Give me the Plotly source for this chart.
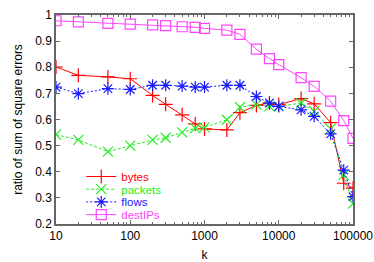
import plotly.graph_objects as go

k = [10, 20, 50, 100, 200, 300, 500, 750, 1000, 2000, 3000, 5000, 7500,
     10000, 20000, 30000, 50000, 75000, 100000]
bytes_ = [0.801, 0.769, 0.763, 0.756, 0.692, 0.658, 0.618, 0.583, 0.564, 0.560,
          0.626, 0.654, 0.663, 0.657, 0.680, 0.660, 0.588, 0.356, 0.337]
packets = [0.542, 0.522, 0.477, 0.500, 0.522, 0.530, 0.551, 0.567, 0.570, 0.599,
           0.647, 0.657, 0.650, 0.650, 0.663, 0.632, 0.564, 0.388, 0.278]
flows = [0.724, 0.699, 0.718, 0.715, 0.731, 0.731, 0.728, 0.724, 0.724, 0.731,
         0.731, 0.688, 0.663, 0.650, 0.637, 0.612, 0.545, 0.406, 0.305]
destIPs = [0.978, 0.974, 0.968, 0.965, 0.962, 0.959, 0.955, 0.953, 0.949, 0.942,
           0.926, 0.869, 0.833, 0.810, 0.760, 0.727, 0.670, 0.596, 0.528]

x_tickvals = [10, 100, 1000, 10000, 100000]
x_ticktext = ["10", "100", "1000", "10000", "100000"]
y_tickvals = [0.2, 0.3, 0.4, 0.5, 0.6, 0.7, 0.8, 0.9, 1.0]
y_ticktext = ["0.2", "0.3", "0.4", "0.5", "0.6", "0.7", "0.8", "0.9", "1"]
minor_vals = [m * d for d in [10, 100, 1000, 10000] for m in range(2, 10)]

series = [
    ("bytes", bytes_, "#ff0000", "solid", "cross-thin", "legend"),
    ("packets", packets, "#22ee22", "3px,2px", "x-thin", "legend2"),
    ("flows", flows, "#1a1aff", "2px,2px", "asterisk", "legend3"),
    ("destIPs", destIPs, "#ff44ff", "solid", "square-open", "legend4"),
]

fig = go.Figure()
for name, vals, col, dash, sym, leg in series:
    fig.add_trace(go.Scatter(
        x=k, y=vals, mode="lines+markers", name=name, legend=leg,
        line=dict(color=col, width=1, dash=dash),
        marker=dict(symbol=sym, size=10, color=col,
                    line=dict(color=col, width=1.2)),
    ))

axis_common = dict(
    showline=True, linecolor="#666666", linewidth=1.5, mirror="ticks",
    ticks="inside", tickcolor="#666666", ticklen=4, showgrid=False,
    zeroline=False, tickfont=dict(size=12, color="#000000"), automargin=False,
)

fig.update_xaxes(
    type="log", range=[1, 5], tickvals=x_tickvals, ticktext=x_ticktext,
    title=dict(text="k", font=dict(size=12, color="#000000"), standoff=8),
    minor=dict(ticks="inside", tickvals=minor_vals, ticklen=2.5,
               tickcolor="#666666"),
    **axis_common,
)
fig.update_yaxes(
    range=[0.2, 1.0], tickvals=y_tickvals, ticktext=y_ticktext,
    title=dict(text="ratio of sum of square errors",
               font=dict(size=12, color="#000000"), standoff=10),
    **axis_common,
)

W, H = 374, 262
ml, mr, mt, mb = 56, 21, 15, 38
plot_h = H - mt - mb
row_y = [176.5, 189.2, 201.9, 214.6]  # legend row centres in figure px
legends = {}
for (name, vals, col, dash, sym, leg), yc in zip(series, row_y):
    legends[leg] = dict(
        x=0.085, y=(H - mb - yc) / plot_h, xanchor="left", yanchor="middle",
        bgcolor="rgba(0,0,0,0)", font=dict(size=11.5, color=col),
    )

fig.update_layout(
    width=W, height=H,
    margin=dict(l=ml, r=mr, t=mt, b=mb),
    paper_bgcolor="white", plot_bgcolor="white",
    font=dict(family="Liberation Sans, Arial, sans-serif", size=12),
    showlegend=True,
    **legends,
)

fig.write_html(
    "out.html",
    config={"displayModeBar": False},
    post_script="document.body.style.margin='0';"
                "document.body.style.overflow='hidden';",
)
